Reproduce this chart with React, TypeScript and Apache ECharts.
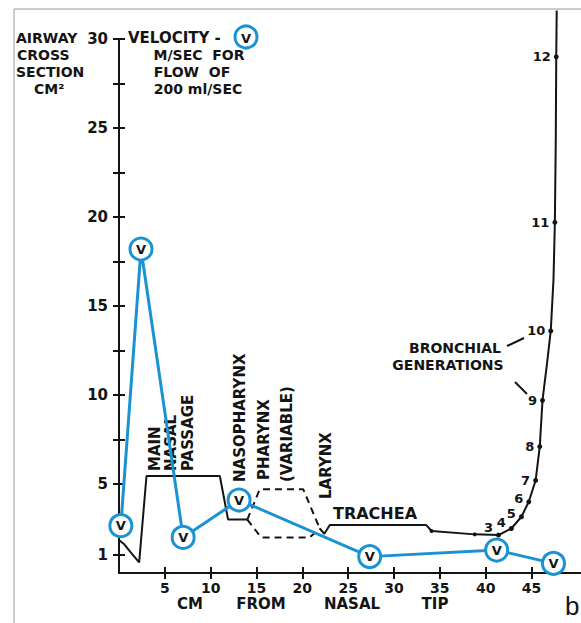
import React, { useEffect, useRef } from "react";
import * as echarts from "echarts";

const xTickValues = [5, 10, 15, 20, 25, 30, 35, 40, 45];
const yLabelValues = [1, 5, 10, 15, 20, 25, 30];
const yTickValues = [1, 2.5, 5, 7.5, 10, 12.5, 15, 17.5, 20, 22.5, 25, 27.5, 30];

// Airway cross section (cm²) vs distance from nasal tip (cm)
const airwayNasal = [[0, 1.85], [0.6, 1.6], [1.3, 1.15], [2.2, 0.6], [3.0, 5.45], [11.0, 5.45], [11.9, 3.0], [14.0, 3.0]];
const pharynxUpper = [[14.0, 3.0], [15.35, 4.7], [20.1, 4.7], [21.9, 2.5]];
const pharynxLower = [[14.0, 3.0], [15.5, 2.0], [20.8, 2.0], [21.9, 2.5]];
const airwayLower = [[21.9, 2.5], [22.4, 2.2], [23.0, 2.7], [33.5, 2.7], [34.1, 2.36], [38.8, 2.17], [41.4, 2.13], [42.8, 2.5], [43.9, 3.16], [44.7, 4.0], [45.45, 5.2], [45.9, 7.1], [46.2, 9.7], [46.7, 11.8], [47.1, 13.6], [47.4, 16.5], [47.55, 19.7], [47.65, 24.5], [47.7, 29.0], [47.75, 31.6]];

// Bronchial generation markers
const genNames = ["3", "4", "5", "6", "7", "8", "9", "10", "11", "12"];
const genX = [41.4, 42.8, 43.9, 44.7, 45.45, 45.9, 46.2, 47.1, 47.55, 47.7];
const genY = [2.13, 2.5, 3.16, 4.0, 5.2, 7.1, 9.7, 13.6, 19.7, 29.0];
const genLabelOffsetY = [-8, -6, -3, -3, 0, 0, 0, 0, 0, 0];
const tracheaDots = [[34.1, 2.36], [38.8, 2.17]];

// Velocity (m/sec for flow of 200 ml/sec)
const velX = [0.2, 2.4, 7.0, 13.1, 27.35, 41.2, 47.4];
const velY = [2.66, 18.2, 2.0, 4.1, 0.92, 1.29, 0.54];

const BLUE = "#1b93d3";
const INK = "#141414";
const FONT = '"DejaVu Sans", sans-serif';

export default function App() {
  const ref = useRef<HTMLDivElement>(null);
  useEffect(() => {
    document.body.style.margin = "0";
    const chart = echarts.init(ref.current!, null, { renderer: "svg" });
    const grid = { left: 119, right: 0, top: 39, bottom: 50, containLabel: false };
    const lab = { fontFamily: FONT, fontWeight: "bold" as const, fontSize: 15, color: INK };
    const t = (text: string, x: number, y: number, size = 16, align = "left", rot = 0) => ({
      type: "text",
      x,
      y,
      rotation: rot,
      silent: true,
      style: {
        text,
        font: `bold ${size}px ${FONT}`,
        fill: INK,
        textAlign: align,
        textVerticalAlign: "middle",
      },
    });
    const R = Math.PI / 2;
    const genLabel = { show: true, position: "left", distance: 3, fontFamily: FONT, fontWeight: "bold", fontSize: 13, color: INK };
    chart.setOption({
      animation: false,
      backgroundColor: "#ffffff",
      grid: [grid, { ...grid }],
      xAxis: [
        {
          type: "value", gridIndex: 0, min: 0, max: 50.4,
          axisLine: { show: true, lineStyle: { color: INK, width: 2 } },
          axisTick: { show: true, customValues: xTickValues, length: 6, lineStyle: { color: INK, width: 2 } },
          axisLabel: { show: true, customValues: xTickValues, margin: 8, ...lab, fontSize: 14 },
          splitLine: { show: false },
        },
        {
          type: "value", gridIndex: 1, min: 0, max: 50.4, position: "bottom",
          axisLine: { show: false },
          axisTick: { show: true, inside: true, customValues: xTickValues, length: 6, lineStyle: { color: INK, width: 2 } },
          axisLabel: { show: false },
          splitLine: { show: false },
        },
      ],
      yAxis: [
        {
          type: "value", gridIndex: 0, min: 0, max: 30,
          axisLine: { show: true, lineStyle: { color: INK, width: 2 } },
          axisTick: { show: true, customValues: yTickValues, length: 6, lineStyle: { color: INK, width: 2 } },
          axisLabel: { show: true, customValues: yLabelValues, margin: 11, ...lab },
          splitLine: { show: false },
        },
        {
          type: "value", gridIndex: 1, min: 0, max: 30, position: "left",
          axisLine: { show: false },
          axisTick: { show: true, inside: true, customValues: yTickValues, length: 6, lineStyle: { color: INK, width: 2 } },
          axisLabel: { show: false },
          splitLine: { show: false },
        },
      ],
      series: [
        {
          type: "line", name: "airway", data: airwayNasal, showSymbol: false, clip: false, z: 2,
          lineStyle: { color: INK, width: 2 },
        },
        {
          type: "line", name: "pharynx upper", data: pharynxUpper, showSymbol: false, clip: false, z: 2,
          lineStyle: { color: INK, width: 2, type: [7, 5] },
        },
        {
          type: "line", name: "pharynx lower", data: pharynxLower, showSymbol: false, clip: false, z: 2,
          lineStyle: { color: INK, width: 2, type: [7, 5] },
        },
        {
          type: "line", name: "airway lower", data: airwayLower, showSymbol: false, clip: false, z: 2,
          lineStyle: { color: INK, width: 2 },
        },
        {
          type: "scatter", name: "generations", symbol: "circle", symbolSize: 5, clip: false, z: 3,
          itemStyle: { color: INK, opacity: 1 },
          label: { ...genLabel, formatter: (p: any) => p.name || "" },
          data: [
            ...genNames.map((n, i) => ({
              name: n,
              value: [genX[i], genY[i]],
              label: { ...genLabel, offset: [0, genLabelOffsetY[i]] },
            })),
            ...tracheaDots.map((d) => ({ name: "", value: d, symbolSize: 4, label: { show: false } })),
          ],
        },
        {
          type: "line", name: "velocity", data: velX.map((x, i) => [x, velY[i]]), clip: false, z: 5,
          symbol: "circle", symbolSize: 22, showSymbol: true,
          lineStyle: { color: BLUE, width: 3 },
          itemStyle: { color: "#ffffff", borderColor: BLUE, borderWidth: 3 },
          label: { show: true, position: "inside", formatter: "V", fontFamily: FONT, fontWeight: "bold", fontSize: 13, color: INK },
        },
      ],
      graphic: [
        { type: "line", silent: true, shape: { x1: 14, y1: 9, x2: 581, y2: 9 }, style: { stroke: "#9a9a9a", lineWidth: 1 } },
        { type: "line", silent: true, shape: { x1: 14, y1: 9, x2: 14, y2: 623 }, style: { stroke: "#9a9a9a", lineWidth: 1 } },
        t("AIRWAY", 16, 38, 14),
        t("CROSS", 17, 55, 14),
        t("SECTION", 16, 72, 14),
        t("CM²", 34, 89, 14),
        t("VELOCITY -", 128, 38, 15),
        t("M/SEC  FOR", 199, 55, 14, "center"),
        t("FLOW  OF", 192, 72, 14, "center"),
        t("200 ml/SEC", 198, 89, 14, "center"),
        {
          type: "circle", silent: true, shape: { cx: 246, cy: 37, r: 11 },
          style: { fill: "#ffffff", stroke: BLUE, lineWidth: 3 },
        },
        t("V", 246, 38, 13, "center"),
        t("MAIN", 155, 471, 15, "left", R),
        t("NASAL", 171, 471, 15, "left", R),
        t("PASSAGE", 188, 471, 15, "left", R),
        t("NASOPHARYNX", 240, 482, 15, "left", R),
        t("PHARYNX", 264, 480, 15, "left", R),
        t("(VARIABLE)", 287, 482, 15, "left", R),
        t("LARYNX", 326, 499, 15, "left", R),
        t("TRACHEA", 375, 513, 16, "center"),
        t("BRONCHIAL", 455, 348, 14, "center"),
        t("GENERATIONS", 448, 365, 14, "center"),
        { type: "line", silent: true, shape: { x1: 507, y1: 346, x2: 524, y2: 338 }, style: { stroke: INK, lineWidth: 2 } },
        { type: "line", silent: true, shape: { x1: 515, y1: 382, x2: 527, y2: 394 }, style: { stroke: INK, lineWidth: 2 } },
        t("CM", 190, 604, 15, "center"),
        t("FROM", 261, 604, 15, "center"),
        t("NASAL", 352, 604, 15, "center"),
        t("TIP", 435, 604, 15, "center"),
        {
          type: "text", silent: true, x: 565, y: 619,
          style: { text: "b", font: '26px "Liberation Sans", sans-serif', fill: INK, textAlign: "left", textVerticalAlign: "bottom" },
        },
      ],
    });
    return () => chart.dispose();
  }, []);
  return <div ref={ref} style={{ position: "fixed", left: 0, top: 0, width: 581, height: 623 }} />;
}
